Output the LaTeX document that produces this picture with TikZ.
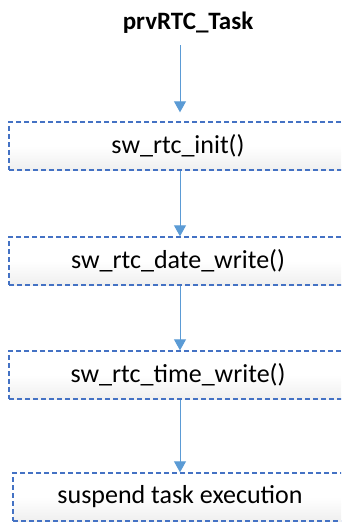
\documentclass[tikz,border=0pt]{standalone}
\usepackage{fontspec}
\setmainfont{Carlito}
\usetikzlibrary{arrows.meta,shadings}
\definecolor{boxblue}{HTML}{4472C4}
\definecolor{arrblue}{HTML}{5B9BD5}
\pgfdeclareverticalshading{boxshade}{100bp}{color(0bp)=(gray!30); color(20bp)=(gray!15); color(50bp)=(white); color(100bp)=(white)}
\tikzset{
  stepbox/.style={draw=boxblue, line width=1.4pt, dash pattern=on 5pt off 3pt,
    shading=boxshade, minimum height=48pt, inner sep=0pt, font=\fontsize{26}{30}\selectfont},
  arr/.style={draw=arrblue, line width=1pt, -{Triangle[width=12pt,length=11pt]}}
}
\begin{document}
\begin{tikzpicture}[x=1pt,y=-1pt]
\clip (0,0) rectangle (341,522);
\fill[white] (0,0) rectangle (341,522);
\node[font=\fontsize{25}{28}\selectfont\bfseries] (title) at (188,23) {prvRTC\_Task};
\node[stepbox, minimum width=338pt] (b1) at (178,146) {sw\_rtc\_init()};
\node[stepbox, minimum width=338pt] (b2) at (178,261) {sw\_rtc\_date\_write()};
\node[stepbox, minimum width=338pt] (b3) at (178,375) {sw\_rtc\_time\_write()};
\node[stepbox, minimum width=334pt] (b4) at (180,497) {suspend task execution};
\coordinate (ax) at (180,0);
\coordinate (t1) at (180,45);
\draw[arr, shorten >=9pt] (t1) -- (ax |- b1.north);
\draw[arr] (ax |- b1.south) -- (ax |- b2.north);
\draw[arr] (ax |- b2.south) -- (ax |- b3.north);
\draw[arr] (ax |- b3.south) -- (ax |- b4.north);
\end{tikzpicture}
\end{document}
